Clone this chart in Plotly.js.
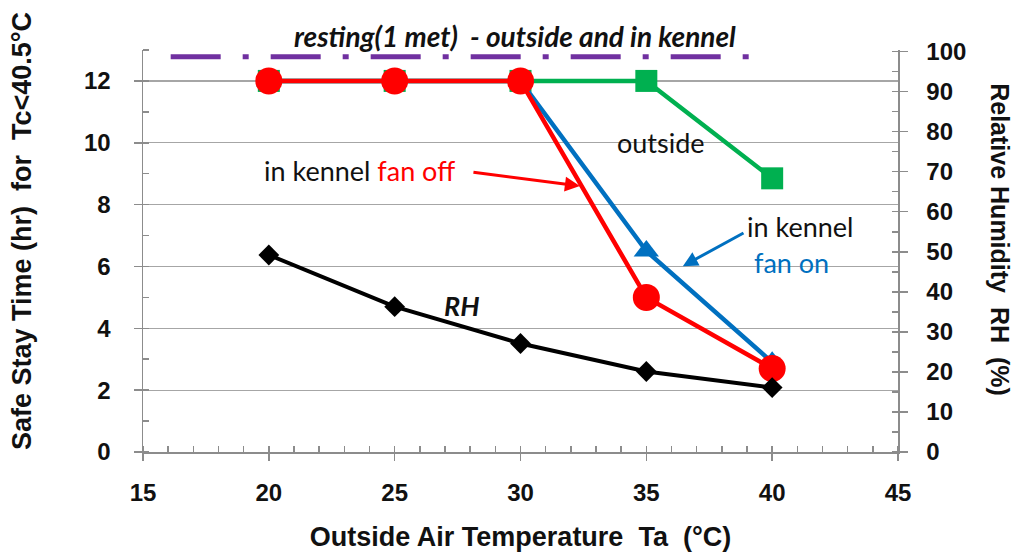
<!DOCTYPE html>
<html><head><meta charset="utf-8">
<script src="https://cdn.plot.ly/plotly-3.0.1.min.js"></script>
<style>body{margin:0;background:#fff}#chart{width:1016px;height:554px}</style>
</head><body><div id="chart"></div>
<script>
const temps = [20, 25, 30, 35, 40];
const outside = [12, 12, 12, 12, 8.85];
const fanOn = [12, 12, 12, 6.5, 2.9];
const fanOff = [12, 12, 12, 5.0, 2.7];
const rh = [49.2, 36.3, 27.1, 20.1, 16.1];
const restingX = [16.1, 39.3];
const restingY = [12.78, 12.78];
const xTicks = [15, 20, 25, 30, 35, 40, 45];
const yTicks = [0, 2, 4, 6, 8, 10, 12];
const y2Ticks = [0, 10, 20, 30, 40, 50, 60, 70, 80, 90, 100];

const tickFont = {family: 'Liberation Sans, Arial, sans-serif', size: 24, color: '#111', weight: 700};
const annFont = {family: 'Lato, Open Sans, sans-serif', size: 27, color: '#111'};
const titleFont = {family: 'Liberation Sans, Arial, sans-serif', size: 27, color: '#111', weight: 700};

const traces = [
  {x: restingX, y: restingY, mode: 'lines', line: {color: '#7030A0', width: 5, dash: '50px,22px,6px,22px'}, hoverinfo: 'skip'},
  {x: temps, y: outside, mode: 'lines+markers', line: {color: '#00B050', width: 4.5}, marker: {symbol: 'square', size: 22, color: '#00B050'}},
  {x: temps, y: fanOn, mode: 'lines+markers', line: {color: '#0070C0', width: 4.5}, marker: {symbol: 'triangle-up', size: 22, color: '#0070C0'}},
  {x: temps, y: fanOff, mode: 'lines+markers', line: {color: '#FF0000', width: 4.5}, marker: {symbol: 'circle', size: 27, color: '#FF0000'}},
  {x: temps, y: rh, yaxis: 'y2', mode: 'lines+markers', line: {color: '#000', width: 4}, marker: {symbol: 'diamond', size: 16, color: '#000'}}
];

const axisLine = '#8c8c8c';
const layout = {
  width: 1016, height: 554,
  margin: {l: 143, r: 118, t: 50, b: 102},
  showlegend: false,
  paper_bgcolor: '#fff', plot_bgcolor: '#fff',
  xaxis: {
    range: [15, 45], tickvals: xTicks, ticktext: xTicks.map(String),
    showline: true, linecolor: axisLine, linewidth: 1.5, showgrid: false, zeroline: false,
    ticks: 'outside', ticklen: 7, tickcolor: axisLine, tickwidth: 1.5,
    minor: {dtick: 1, ticks: 'inside', ticklen: 6, tickcolor: axisLine, showgrid: false},
    tickfont: tickFont, ticklabelstandoff: 12,
    title: {text: 'Outside Air Temperature  Ta  (°C)', font: titleFont, standoff: 22}
  },
  yaxis: {
    range: [0, 13], tickvals: yTicks,
    showline: true, linecolor: axisLine, linewidth: 1.5, zeroline: false,
    showgrid: true, gridcolor: '#a6a6a6', gridwidth: 1.2,
    ticks: 'outside', ticklen: 8, tickcolor: axisLine, tickwidth: 1.5,
    minor: {dtick: 1, ticks: 'inside', ticklen: 6, tickcolor: axisLine, showgrid: false},
    tickfont: tickFont, ticklabelstandoff: 18
  },
  yaxis2: {
    overlaying: 'y', side: 'right', range: [0, 100 * 13 / 12.95], tickvals: y2Ticks,
    showline: true, linecolor: axisLine, linewidth: 1.5, zeroline: false, showgrid: false,
    ticks: 'outside', ticklen: 8, tickcolor: axisLine, tickwidth: 1.5,
    minor: {dtick: 5, ticks: 'inside', ticklen: 6, tickcolor: axisLine, showgrid: false},
    tickfont: tickFont, ticklabelstandoff: 14
  },
  annotations: [
    {xref: 'paper', yref: 'paper', x: -0.160, y: 0.55, xanchor: 'center', yanchor: 'middle', text: 'Safe Stay Time (hr)  for  Tc<40.5°C', textangle: -90, showarrow: false, font: titleFont},
    {xref: 'paper', yref: 'paper', x: 1.135, y: 0.527, xanchor: 'center', yanchor: 'middle', text: 'Relative Humidity  RH  (%)', textangle: 90, showarrow: false,
     font: {family: titleFont.family, size: 25, color: '#111', weight: 700}},
    {x: 29.78, yref: 'paper', y: 1.035, xanchor: 'center', yanchor: 'middle', text: '<i>resting(1 met)  - outside and in kennel</i>', showarrow: false,
     font: {family: annFont.family, size: 28, color: '#111', weight: 700}},
    {x: 35.6, y: 10.0, text: 'outside', showarrow: false, font: annFont},
    {x: 23.62, y: 9.1, text: 'in kennel <span style="color:#FF0000">fan off</span>', showarrow: false, font: annFont},
    {x: 32.36, y: 8.6, ax: 28.07, ay: 9.05, axref: 'x', ayref: 'y', text: '', showarrow: true, arrowhead: 2, arrowsize: 1, arrowwidth: 3, arrowcolor: '#FF0000'},
    {x: 41.1, y: 7.3, text: 'in kennel', showarrow: false, font: annFont},
    {x: 40.78, y: 6.14, text: 'fan on', showarrow: false, font: {family: annFont.family, size: 27, color: '#0070C0'}},
    {x: 36.45, y: 6.01, ax: 38.92, ay: 7.11, axref: 'x', ayref: 'y', text: '', showarrow: true, arrowhead: 2, arrowsize: 1, arrowwidth: 3, arrowcolor: '#0070C0'},
    {x: 27.67, y: 4.75, text: '<i>RH</i>', showarrow: false, font: {family: annFont.family, size: 27, color: '#111', weight: 700}}
  ]
};
Plotly.newPlot('chart', traces, layout, {staticPlot: true});
</script></body></html>
